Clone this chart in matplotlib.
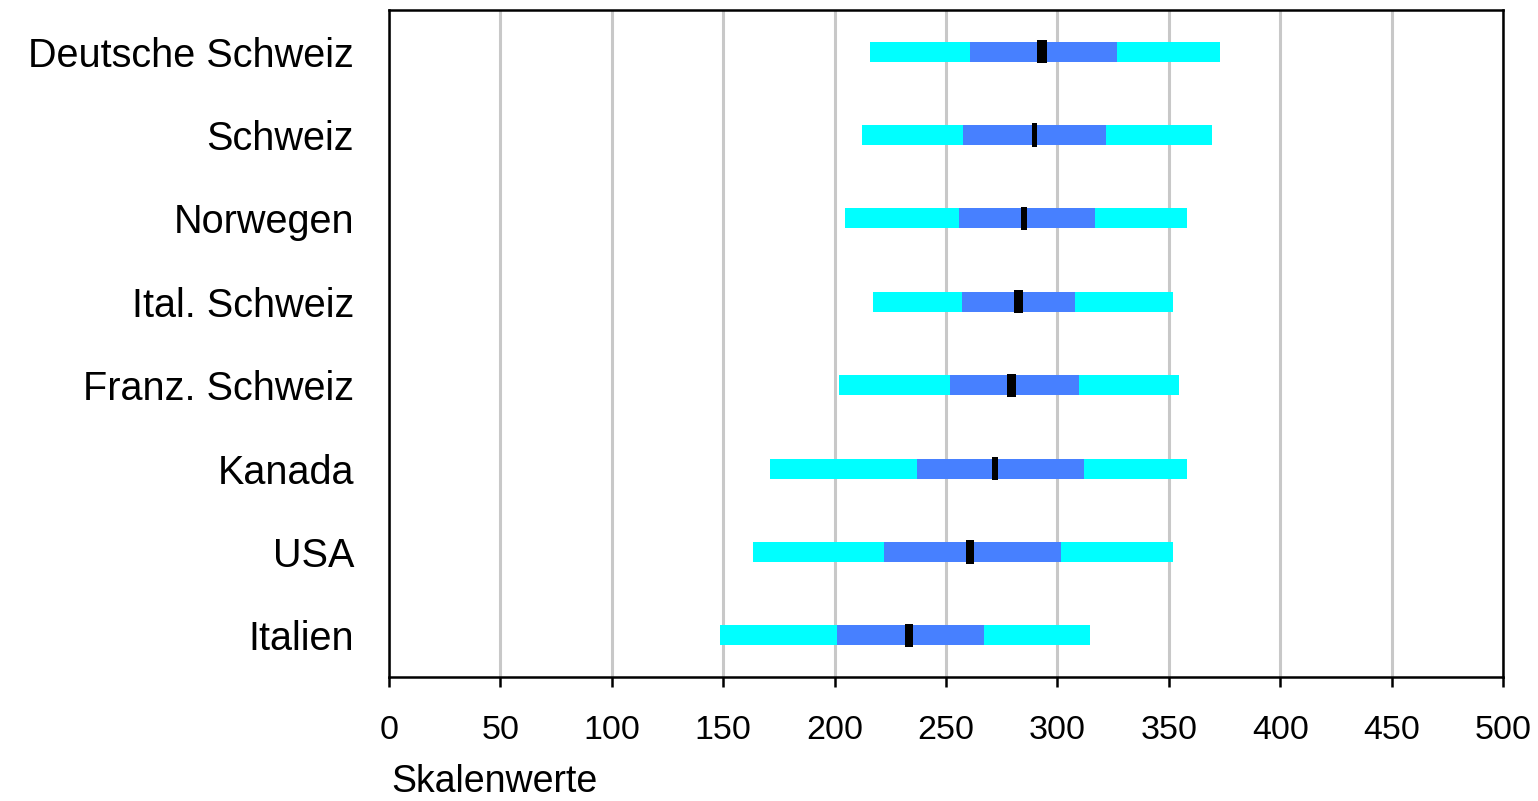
import matplotlib
matplotlib.use("Agg")
import matplotlib.pyplot as plt

plt.rcParams["font.family"] = ["Liberation Sans", "DejaVu Sans"]

# ── data (bottom to top) ──────────────────────────────────────────────────────
regions = ["Italien", "USA", "Kanada", "Franz. Schweiz", "Ital. Schweiz",
           "Norwegen", "Schweiz", "Deutsche Schweiz"]
p5 = [148.6, 163.4, 171.0, 202.0, 217.2, 204.7, 212.3, 215.9]
p25 = [201.1, 222.2, 237.0, 251.8, 257.2, 255.8, 257.6, 260.8]
p75 = [267.0, 301.6, 311.9, 309.7, 307.9, 316.9, 321.8, 326.8]
p95 = [314.6, 351.9, 358.2, 354.6, 351.9, 358.2, 369.4, 373.0]
ci_lo = [231.5, 259.0, 270.5, 277.5, 280.5, 283.5, 288.5, 291.0]
ci_hi = [235.0, 262.5, 273.5, 281.5, 284.5, 286.5, 291.0, 295.5]
xticks = list(range(0, 501, 50))

fig = plt.figure(figsize=(15.38, 8.01), dpi=100)
ax = fig.add_axes([0.2529, 0.1548, 0.7244, 0.8327])

y = range(len(regions))
h = 0.24
ax.barh(y, [b - a for a, b in zip(p5, p95)], left=p5, height=h,
        color="#00ffff", zorder=2)
ax.barh(y, [b - a for a, b in zip(p25, p75)], left=p25, height=h,
        color="#4780ff", zorder=3)
ax.barh(y, [b - a for a, b in zip(ci_lo, ci_hi)], left=ci_lo, height=h + 0.04,
        color="black", zorder=4)

ax.set_xlim(0, 500)
ax.set_ylim(-0.5, len(regions) - 0.5)
ax.set_xticks(xticks)
ax.set_yticks(list(y))
ax.set_yticklabels(regions)
ax.grid(axis="x", color="#c8c8c8", linewidth=2.2, zorder=0)
ax.set_axisbelow(True)
for s in ax.spines.values():
    s.set_linewidth(1.8)
ax.tick_params(axis="x", length=7, width=1.8, direction="out",
               labelsize=24.5, pad=20)
ax.tick_params(axis="y", length=0, labelsize=28.5, pad=25)

fig.text(391 / 1538, 1 - 782 / 801, "Skalenwerte", fontsize=27,
         ha="left", va="center")

fig.savefig("out.png", dpi=100)
